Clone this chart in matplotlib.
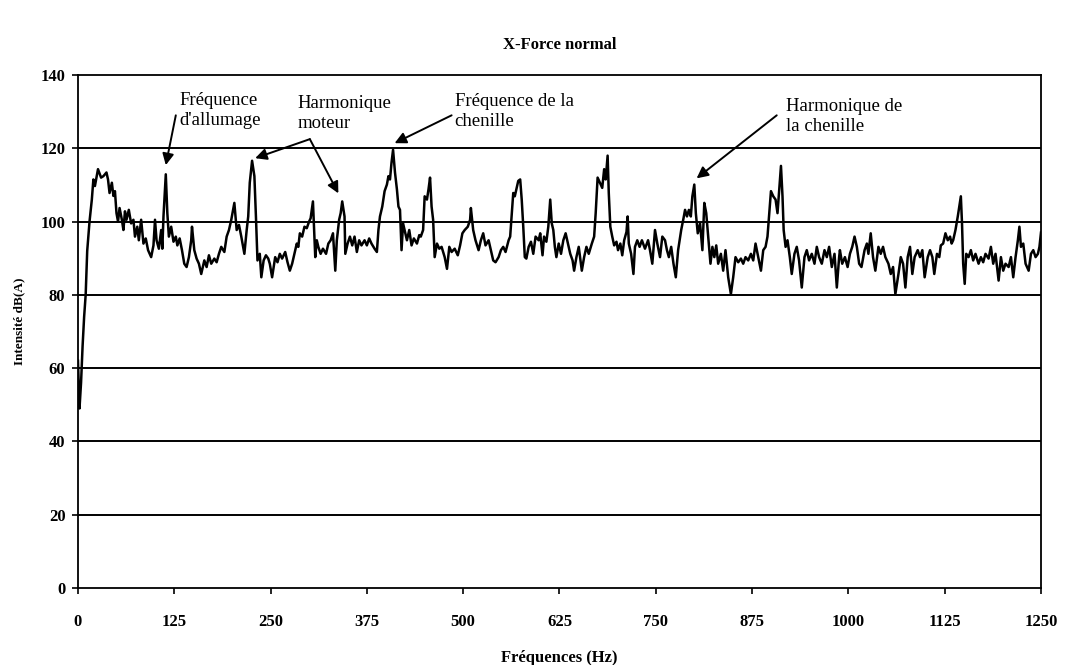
import matplotlib
matplotlib.use("Agg")
import matplotlib.pyplot as plt

title = "X-Force normal"
x_label = "Fréquences (Hz)"
y_label = "Intensité dB(A)"
x_ticks = [0, 125, 250, 375, 500, 625, 750, 875, 1000, 1125, 1250]
y_ticks = [0, 20, 40, 60, 80, 100, 120, 140]

freq = [0, 1, 2, 4, 6, 8, 10, 12, 15, 18, 20, 22, 26, 30, 33, 37, 39, 41, 44, 46, 48, 50, 52, 54, 57, 59, 61, 63, 66, 69, 72, 74, 77, 79, 82, 85, 88, 91, 95, 98, 100, 102, 105, 108, 109.5, 111, 114, 116, 118, 121, 124, 127, 129, 132, 135, 138, 141, 144, 147, 148, 151, 154, 157, 160, 164, 167, 170, 173, 177, 180, 183, 186, 190, 193, 196, 199, 203, 206, 209, 212, 216, 219, 221, 223, 226, 229, 231, 233, 236, 238, 241, 244, 247,
        249, 252, 256, 259, 262, 265, 269, 272, 275, 278, 282, 284, 286, 288, 291, 294, 297, 300, 302, 305, 308, 310, 312, 315, 318, 322, 325, 328, 331, 334, 336, 339, 341, 343, 346, 347, 350, 353, 356, 359, 362, 365, 368, 372, 375, 378, 381, 385, 388, 390, 392, 395, 398, 401, 403, 405, 407, 409, 411.5, 414, 416, 418, 420, 422, 424, 427, 430, 433, 436, 440, 443, 445, 448, 450, 453, 455, 457, 459, 461, 463, 466, 469, 472, 476, 479, 482, 485, 489, 493,
        496, 499, 502, 506, 509, 510, 513, 516, 520, 523, 526, 529, 533, 536, 539, 542, 546, 549, 552, 555, 559, 561, 563, 565, 567, 569, 571.5, 574, 576, 578, 580, 582, 585, 588, 591, 594, 598, 600, 603, 605, 608, 610.5, 613, 615, 617, 619, 621, 624, 627, 630, 633, 636, 639, 642, 644, 647, 650, 654, 657, 660, 663, 667, 670, 672, 674.5, 677.5, 680.5, 683, 685, 687.5, 689, 691, 693.5, 696, 699, 701, 704, 706.5, 709, 712, 713.5, 715, 718, 721, 723, 726, 729, 732, 736,
        740, 742.5, 745.5, 749, 752, 755.5, 758.5, 762, 764.5, 767, 770, 773, 776, 779, 783, 786, 788, 790.5, 793, 795.5, 797.5, 800, 802, 804.5, 807.5, 810.5, 813, 815.5, 818, 821, 823.5, 826, 828.5, 831, 834.5, 837.5, 840.5, 844, 847.5, 850.5, 853.5, 857, 860.5, 863.5, 866.5, 870, 873.5, 876.5, 879.5, 883, 886.5, 889.5, 892.5, 895, 897, 899.5, 902.5, 905.5, 908, 910.5, 912.5, 914.5, 916, 918.5, 921, 924, 926.5, 930, 933, 936, 939.5, 943, 946, 949, 952.5, 956, 959, 962, 965.5, 969, 972, 975, 978.5, 982, 985, 988,
        989, 992, 995.5, 999, 1002, 1005, 1008, 1011, 1014, 1017, 1021, 1024, 1026, 1029, 1032, 1035, 1039, 1042, 1045, 1048, 1052, 1055, 1058, 1061, 1065, 1068, 1071, 1074, 1077, 1080, 1083, 1086, 1090, 1093, 1096, 1099, 1103, 1106, 1109, 1111.5, 1115, 1118, 1120, 1123, 1126, 1129, 1132, 1134, 1136, 1139, 1142, 1144, 1146, 1147.5, 1149, 1151, 1153, 1156, 1159, 1162, 1165, 1169, 1172, 1175, 1178, 1182, 1185, 1188, 1191, 1195, 1198, 1201, 1204, 1208, 1211, 1214, 1217, 1220, 1222, 1224, 1227, 1230, 1234, 1237, 1240, 1243, 1246, 1248, 1250]

level = [62, 55, 49, 56, 66, 74, 80, 92, 100, 106, 111.5, 109.7, 114.3, 112, 112.4, 113.4, 111.5, 107.8, 110.6, 107, 108.3, 102.3, 100, 103.7, 100.5, 97.7, 102.8, 100.5, 103.2, 99.5, 100.5, 95.9, 98.6, 94.9, 100.5, 94, 95.4, 92.2, 90.3, 93.5, 100.5, 94.9, 92.6, 97.7, 92.6, 101.4, 112.9, 102.3, 95.9, 98.6, 94.5, 95.9, 93.5, 95.4, 92.2, 88.5, 87.6, 90.3, 94.9, 98.6, 92.2, 89.9, 88.5, 85.7, 89.4, 87.6, 90.8, 88.5, 89.9, 88.9, 91.2, 93.1, 91.7, 95.9, 97.7, 100.5, 105.1, 97.7, 99.1, 95.9, 91.2, 97.7, 101.4, 110.6, 116.6, 112.4, 101.4, 89.4, 91.2, 84.8, 89.4, 90.8, 89.9,
         88.5, 84.8, 90.3, 88.9, 91.2, 89.9, 91.7, 88.9, 86.6, 88.5, 92.2, 94, 93.1, 96.8, 95.9, 98.6, 98.2, 100, 100.9, 105.5, 90.3, 94.9, 93.1, 91.2, 92.6, 91.2, 94, 94.9, 96.8, 86.6, 94.9, 100.5, 102.3, 105.5, 101.4, 91.2, 94, 95.9, 93.5, 95.9, 91.7, 94.9, 93.5, 94.9, 93.5, 95.4, 94, 92.6, 91.7, 97.7, 101.4, 104.1, 108.3, 110.1, 112.4, 111.5, 116.1, 119.6, 113.4, 108.8, 104.1, 103.2, 92.2, 99.5, 97.7, 94.9, 97.7, 93.5, 95.4, 94, 96.3, 95.9, 97.7, 106.9, 106, 108.8, 112, 104.1, 100.5, 90.3, 94, 92.6, 93.1, 90.3, 87.1, 93.1, 91.7, 92.6, 90.8,
         93.5, 96.8, 97.7, 98.6, 100.5, 103.7, 97.7, 94.9, 92.2, 94.9, 96.8, 93.5, 94.9, 92.2, 89.4, 88.9, 90.3, 92.2, 93.1, 91.7, 94.9, 95.9, 101.8, 107.8, 106.9, 108.8, 111.1, 111.5, 106, 98.6, 90.3, 89.9, 93.1, 94.5, 91.2, 95.9, 94.9, 96.8, 90.8, 95.9, 94.5, 98.6, 106, 99.5, 97.7, 93.1, 90.3, 94, 91.2, 94.9, 96.8, 94, 91.2, 89.4, 86.6, 90.3, 93.1, 86.6, 90.3, 93.1, 91.2, 94, 95.9, 102.3, 112, 110.6, 109.2, 114.3, 111.5, 118, 107.8, 98.6, 95.9, 93.5, 94.5, 92.2, 94, 90.8, 94.9, 97.2, 101.4, 94, 91.2, 85.7, 93.1, 94.9, 93.1, 94.9, 92.6,
         94.9, 92.2, 88.5, 97.7, 94, 90.3, 95.9, 94.9, 92.2, 90.3, 93.1, 88.5, 84.8, 92.2, 97.7, 100.9, 103.2, 101.4, 103.2, 101.4, 106.9, 110.1, 102.3, 96.8, 99.5, 92.2, 105.1, 102.3, 95.9, 88.5, 93.1, 90.3, 93.5, 88.5, 91.2, 86.6, 92.2, 84.8, 80.2, 84.8, 90.3, 88.9, 89.9, 88.5, 90.3, 89.4, 91.2, 89.4, 94, 90.3, 86.6, 92.2, 93.1, 95.9, 101.4, 108.3, 106.9, 106, 102.3, 109.7, 115.2, 106.9, 97.7, 93.1, 94.9, 90.3, 85.7, 91.2, 93.1, 89.4, 82, 90.3, 92.2, 89.4, 91.2, 88.5, 93.1, 90.3, 88.5, 92.2, 90.3, 93.1, 87.6, 91.2, 82, 90.3,
         92.2, 88.5, 90.3, 87.6, 91.2, 93.1, 95.9, 93.1, 88.5, 87.6, 92.2, 94, 91.2, 96.8, 90.3, 86.6, 93.1, 91.2, 93.1, 90.3, 88.5, 85.7, 87.6, 80.2, 85.7, 90.3, 88.5, 82, 90.3, 93.1, 85.7, 90.3, 92.2, 90.3, 92.2, 84.8, 90.3, 92.2, 90.3, 85.7, 91.2, 90.3, 93.5, 94, 96.8, 94.9, 95.9, 94, 94.9, 97.7, 101.4, 104.1, 106.9, 99.5, 88.5, 83, 91.2, 90.3, 92.2, 89.4, 91.2, 88.5, 90.3, 88.9, 91.2, 89.9, 93.1, 88.5, 91.2, 83.9, 90.3, 86.6, 88.5, 87.6, 90.3, 84.8, 90.3, 94.9, 98.6, 93.1, 94, 88.5, 86.6, 91.2, 92.2, 90.3, 91.2, 93.1, 97]

# annotations: label, text centre (freq, dB), arrow targets (freq, dB), arrow tail (freq, dB)
notes = [
    ("Fréquence\nd'allumage", (132, 130.3), [(114, 115.4)], (127, 129.0)),
    ("Harmonique\nmoteur", (285, 129.4), [(230, 117.3), (338, 107.7)], (301, 122.5)),
    ("Fréquence de la\nchenille", (489, 130.0), [(411, 121.4)], (485, 129.0)),
    ("Harmonique de\nla chenille", (919, 128.6), [(803, 111.8)], (907, 129.0)),
]

plt.rcParams['font.family'] = ['Liberation Serif', 'DejaVu Serif']

fig = plt.figure(figsize=(10.68, 6.65), dpi=100)
ax = fig.add_axes([0.073, 0.1158, 0.9017, 0.7714])

for yv in y_ticks[1:-1]:
    ax.axhline(yv, color='black', lw=1.4, zorder=1)

ax.plot(freq, level, color='black', lw=1.8, zorder=3)

ax.set_xlim(0, 1250)
ax.set_ylim(0, 140)
ax.set_xticks(x_ticks)
ax.set_yticks(y_ticks)
ax.set_xticklabels([str(v) for v in x_ticks], fontsize=12, fontweight='bold')
ax.set_yticklabels([str(v) for v in y_ticks], fontsize=12, fontweight='bold')
ax.tick_params(axis='x', direction='out', length=4, width=1.2, pad=15)
ax.tick_params(axis='y', direction='out', length=4, width=1.2, pad=5)
for s in ax.spines.values():
    s.set_linewidth(1.3)
    s.set_color('black')

ax.set_xlabel(x_label, fontsize=12, fontweight='bold', labelpad=14)
ax.set_ylabel(y_label, fontsize=9.5, fontweight='bold')
ax.yaxis.set_label_coords(-0.055, 0.52)
fig.suptitle(title, x=0.524, y=0.945, fontsize=12, fontweight='bold')

for label, (tx, ty), targets, (ax_f, ax_d) in notes:
    ax.text(tx, ty, label, fontsize=13.5, ha='left', va='center', linespacing=1.22, zorder=4)
    for (hx, hy) in targets:
        ax.annotate('', xy=(hx, hy), xytext=(ax_f, ax_d),
                    arrowprops=dict(arrowstyle='-|>', color='black', lw=1.4,
                                    mutation_scale=17, shrinkA=0, shrinkB=0),
                    zorder=5)

fig.savefig('out.png', dpi=100)
